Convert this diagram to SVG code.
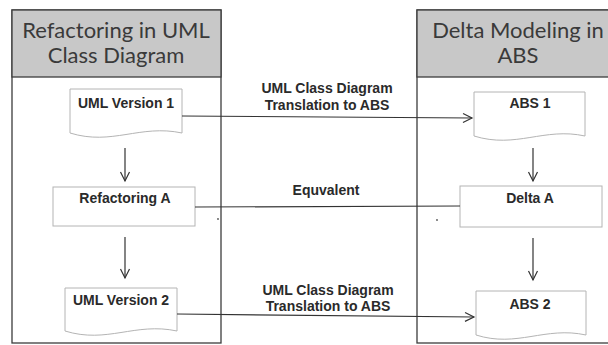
<svg xmlns="http://www.w3.org/2000/svg" width="608" height="345" viewBox="0 0 608 345">
<style>
.lane{fill:#fff;stroke:#3c3c3c;stroke-width:1.3}
.head{fill:#c8c8c8;stroke:#3c3c3c;stroke-width:1.3}
.ht{font-family:Lato,"Open Sans",sans-serif;font-size:22px;fill:#3a3a3a;text-anchor:middle}
.box{fill:#fff;stroke:#b4b4b4;stroke-width:1}
.nt{font-family:"Liberation Sans",Arial,sans-serif;font-weight:bold;font-size:14px;fill:#2a2a2a;text-anchor:middle}
.cl{fill:none;stroke:#333;stroke-width:1.2}
</style>
<defs>
<marker id="arr" markerWidth="12" markerHeight="12" refX="10" refY="6" orient="auto" markerUnits="userSpaceOnUse">
<path d="M1,1.5 L10,6 L1,10.5" fill="none" stroke="#333" stroke-width="1.2"/>
</marker>
</defs>
<rect width="608" height="345" fill="#fff"/>
<g id="lane-uml">
<rect class="lane" x="12" y="10" width="209" height="333"/>
<rect class="head" x="12" y="10" width="209" height="67"/>
<text class="ht" x="116" y="38">Refactoring in UML</text>
<text class="ht" x="116" y="63">Class Diagram</text>
</g>
<g id="lane-abs">
<rect class="lane" x="417" y="10" width="200" height="333"/>
<rect class="head" x="417" y="10" width="200" height="67"/>
<text class="ht" x="518" y="38">Delta Modeling in</text>
<text class="ht" x="518" y="63">ABS</text>
</g>
<g id="uml1">
<path class="box" d="M70,89 H182 V133 C140,124 112,146 70,133 Z"/>
<text class="nt" x="126" y="108">UML Version 1</text>
</g>
<g id="refA">
<rect class="box" x="53" y="187" width="142" height="39"/>
<text class="nt" x="125" y="203">Refactoring A</text>
</g>
<g id="uml2">
<path class="box" d="M65,288 H177 V331 C135,322 107,344 65,331 Z"/>
<text class="nt" x="121" y="305">UML Version 2</text>
</g>
<g id="abs1">
<path class="box" d="M474,92 H585 V136 C544,127 516,149 474,136 Z"/>
<text class="nt" x="530" y="108">ABS 1</text>
</g>
<g id="deltaA">
<rect class="box" x="460" y="186" width="142" height="41"/>
<text class="nt" x="530" y="203">Delta A</text>
</g>
<g id="abs2">
<path class="box" d="M476,291 H586 V335 C545,326 517,348 476,335 Z"/>
<text class="nt" x="530" y="309">ABS 2</text>
</g>
<g id="connectors">
<line class="cl" x1="182" y1="116" x2="472" y2="118" marker-end="url(#arr)"/>
<line class="cl" x1="125" y1="148" x2="125" y2="181" marker-end="url(#arr)"/>
<line class="cl" x1="533" y1="148" x2="533" y2="181" marker-end="url(#arr)"/>
<line class="cl" x1="195" y1="207" x2="460" y2="206"/>
<line class="cl" x1="125" y1="237" x2="125" y2="278" marker-end="url(#arr)"/>
<line class="cl" x1="533" y1="238" x2="533" y2="280" marker-end="url(#arr)"/>
<line class="cl" x1="177" y1="314" x2="474" y2="317" marker-end="url(#arr)"/>
<text class="nt" x="327" y="93">UML Class Diagram</text>
<text class="nt" x="327" y="110">Translation to ABS</text>
<text class="nt" x="326" y="195">Equvalent</text>
<text class="nt" x="328" y="295">UML Class Diagram</text>
<text class="nt" x="328" y="311">Translation to ABS</text>
<circle cx="218" cy="219" r="0.9" fill="#555"/>
<circle cx="437" cy="220" r="0.9" fill="#555"/>
</g>
</svg>
